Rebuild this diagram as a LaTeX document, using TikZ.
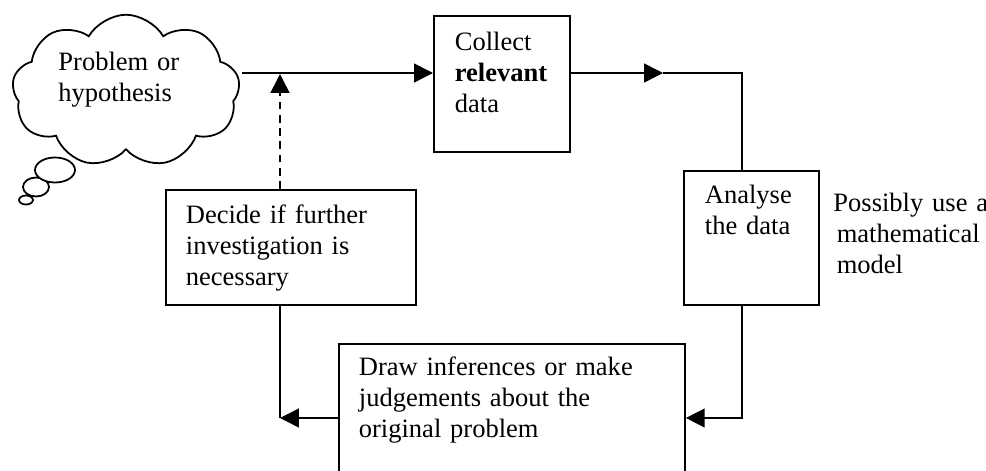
\documentclass[tikz,border=0pt]{standalone}
\usepackage{fontspec}
\setmainfont{Liberation Serif}
\usetikzlibrary{arrows.meta,shapes.symbols}
\begin{document}
\begin{tikzpicture}[x=0.4525pt,y=-0.4525pt,
  every node/.style={font=\fontsize{12}{13.9}\selectfont},
  box/.style={draw,line width=0.8pt,anchor=north west,align=left,inner ysep=0pt},
  flow/.style={line width=0.7pt,-{Triangle[length=8.5pt,width=8.5pt]}}]
\useasboundingbox (0,0) rectangle (986,471);
\clip (0,0) rectangle (986,471);

% thought bubble
\draw[line width=0.8pt,fill=white] (26,200) ellipse (7 and 4.5);
\draw[line width=0.8pt,fill=white] (36,187) ellipse (13 and 9.5);
\draw[line width=0.8pt,fill=white] (55,170) ellipse (20 and 12.5);
\node[cloud,draw,fill=white,line width=0.8pt,cloud puffs=9,cloud puff arc=120,
  aspect=1.5,inner sep=0pt,minimum width=103pt,minimum height=69pt] (cloud) at (126,91) {};
\node[anchor=base west,inner sep=0pt,align=left,text width=60pt] (problem) at (58,71)
  {Problem or\\hypothesis};

% boxes
\node[box,inner xsep=9.5pt,text width=42.5pt,text height=15.8pt,text depth=45.7pt]
  (collect) at (433,15) {Collect\\\textbf{relevant}\\data};
\node[box,inner xsep=9.5pt,text width=42.1pt,text height=14.9pt,text depth=45.7pt]
  (analyse) at (683,170) {Analyse\\the data};
\node[box,inner xsep=9.05pt,text width=95pt,text height=15.4pt,text depth=36.7pt]
  (decide) at (165,189) {Decide if further\\investigation is\\necessary};
\node[box,inner xsep=9.05pt,text width=138.5pt,text height=14.5pt,text depth=63pt]
  (inference) at (338,343) {Draw inferences or make\\judgements about the\\original problem};
\node[anchor=base west,inner sep=0pt,align=left,text width=90pt] (model) at (833,212)
  {Possibly use a\\\hspace*{1.5pt}mathematical\\\hspace*{1.5pt}model};

% connectors
\coordinate (clout) at (242,73);
\coordinate (join) at (280,74);
\coordinate (mid) at (663,73);
\coordinate (corner) at (742,73);
\coordinate (down) at (742,418);
\coordinate (back) at (280,418);

\draw[flow] (clout) -- (collect.west |- clout);
\draw[flow,dash pattern=on 3.5pt off 2.5pt] (decide.north -| join) -- (join);
\draw[flow] (collect.east |- mid) -- (mid);
\draw[line width=0.7pt] (mid) -- (corner) -- (corner |- analyse.north);
\draw[flow] (down |- analyse.south) -- (down) -- (inference.east |- down);
\draw[flow] (inference.west |- back) -- (back);
\draw[line width=0.7pt] (back) -- (back |- decide.south);

\end{tikzpicture}
\end{document}
